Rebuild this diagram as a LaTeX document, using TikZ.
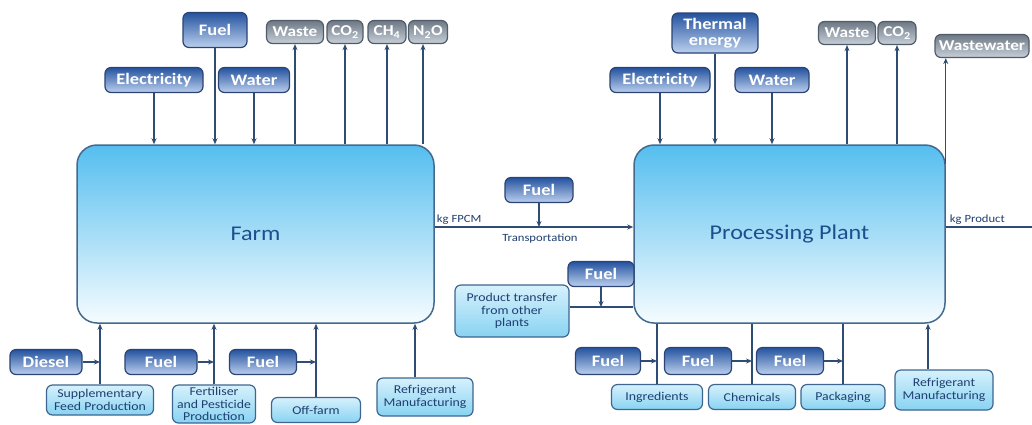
\documentclass[tikz,border=0pt]{standalone}
\usepackage{fontspec}
\setmainfont{Carlito}[FakeStretch=1.15]
\usetikzlibrary{arrows.meta,positioning,calc}

\definecolor{lineC}{HTML}{2F4D72}
\definecolor{mainTop}{HTML}{55BEEF}
\definecolor{mainBot}{HTML}{F6FCFF}
\definecolor{mainEdge}{HTML}{44698F}
\definecolor{mainText}{HTML}{1F4E8C}
\definecolor{inTop}{HTML}{24539F}
\definecolor{inBot}{HTML}{BCD0EE}
\definecolor{inEdge}{HTML}{2B4473}
\definecolor{outTop}{HTML}{6D7884}
\definecolor{outBot}{HTML}{C8D0D9}
\definecolor{outEdge}{HTML}{505C6A}
\definecolor{srcTop}{HTML}{D6F1FC}
\definecolor{srcBot}{HTML}{88D3F2}
\definecolor{srcEdge}{HTML}{3D6690}
\definecolor{srcText}{HTML}{1F3F70}

\tikzset{
  flow/.style={-{Stealth[length=6pt,width=5pt]}, line width=1.2pt, draw=lineC},
  link/.style={line width=1.2pt, draw=lineC},
  mainbox/.style={draw=mainEdge, line width=1.5pt, rounded corners=20pt,
    top color=mainTop, bottom color=mainBot, text=mainText,
    font=\fontsize{21}{24}\selectfont, minimum height=178pt},
  inbox/.style={draw=inEdge, line width=1.2pt, rounded corners=6pt,
    top color=inTop, bottom color=inBot, text=white, align=center,
    font=\bfseries\fontsize{16}{16}\selectfont, inner sep=1pt, minimum height=25pt},
  outbox/.style={draw=outEdge, line width=1.2pt, rounded corners=6pt,
    top color=outTop, bottom color=outBot, text=white,
    font=\bfseries\fontsize{15}{15}\selectfont, inner sep=1pt, minimum height=23pt},
  srcbox/.style={draw=srcEdge, line width=1.2pt, rounded corners=6pt,
    top color=srcTop, bottom color=srcBot, text=srcText, align=center,
    font=\fontsize{12}{12.5}\selectfont, inner sep=1pt, minimum height=25pt},
  lbl/.style={text=srcText, font=\fontsize{11}{12}\selectfont, inner sep=2pt}
}

\begin{document}
\begin{tikzpicture}[x=1pt, y=-1pt]
    \fill[white] (0,0) rectangle (1032,424);
    \useasboundingbox (0,0) rectangle (1032,424);

    % Draw main stages
    \node[mainbox, minimum width=357pt] (farm) at (255.5,234) {Farm};
    \node[mainbox, minimum width=311pt] (plant) at (789.5,234) {Processing Plant};

    % Farm inputs and emissions
    \node[inbox, minimum width=98pt] (elecF) at (154,80) {Electricity};
    \node[inbox, minimum width=64pt, minimum height=35pt] (fuelF) at (215,30) {Fuel};
    \node[inbox, minimum width=71pt] (waterF) at (254,80) {Water};
    \node[outbox, minimum width=57pt] (wasteF) at (295,32) {Waste};
    \node[outbox, minimum width=36pt] (co2F) at (345,32) {CO\textsubscript{2}};
    \node[outbox, minimum width=38pt] (ch4F) at (387,32) {CH\textsubscript{4}};
    \node[outbox, minimum width=39pt] (n2oF) at (428,32) {N\textsubscript{2}O};
    \foreach \src in {elecF,fuelF,waterF}
        \draw[flow] (\src) -- (\src |- farm.north);
    \foreach \dst in {wasteF,co2F,ch4F}
        \draw[flow] (\dst |- farm.north) -- (\dst);
    \coordinate (n2oOut) at ([xshift=-5pt]n2oF.south);
    \draw[flow] (n2oOut |- farm.north) -- (n2oOut);

    % Plant inputs and emissions
    \node[inbox, minimum width=100pt] (elecP) at (660,80) {Electricity};
    \node[inbox, minimum width=86pt, minimum height=40pt] (thermP) at (715,33) {Thermal\\energy};
    \node[inbox, minimum width=74pt] (waterP) at (772,80) {Water};
    \node[outbox, minimum width=57pt] (wasteP) at (847,33) {Waste};
    \node[outbox, minimum width=38pt] (co2P) at (897,33) {CO\textsubscript{2}};
    \node[outbox, minimum width=94pt] (wwP) at (982,46) {Wastewater};
    \foreach \src in {elecP,thermP,waterP}
        \draw[flow] (\src) -- (\src |- plant.north);
    \foreach \dst in {wasteP,co2P}
        \draw[flow] (\dst |- plant.north) -- (\dst);
    \coordinate (wwFoot) at ([yshift=-20pt]plant.north east);
    \draw[flow] (wwFoot) -- (wwFoot |- wwP.south);

    % Transport between stages
    \coordinate (fpcm) at ([yshift=7pt]farm.east);
    \draw[flow] (fpcm) -- (fpcm -| plant.west)
        node[lbl, pos=0.53, below=4pt] {Transportation};
    \node[lbl, above right=0pt and 0pt of fpcm] (fpcmLbl) {kg FPCM};
    \node[inbox, minimum width=68pt] (fuelT) at (539,190) {Fuel};
    \draw[flow] (fuelT) -- (fuelT |- fpcm);

    % Plant output
    \coordinate (prodOut) at ([yshift=7pt]plant.east);
    \draw[link] (prodOut) -- ++(90,0);
    \node[lbl, above right=0pt and 2pt of prodOut] (prodLbl) {kg Product};

    % Product transfer from other plants
    \node[srcbox, minimum width=114pt, minimum height=52pt] (ptrans) at (512,311) {Product transfer\\from other\\plants};
    \node[inbox, minimum width=66pt] (fuelPT) at (601,274) {Fuel};
    \coordinate (ptLine) at ([yshift=4pt]ptrans.east);
    \draw[link] (ptLine) -- (ptLine -| plant.west);
    \draw[flow] (fuelPT) -- (fuelPT |- ptLine);

    % Farm upstream supplies
    \node[inbox, minimum width=72pt] (diesel) at (46,362) {Diesel};
    \node[inbox, minimum width=72pt] (fuelF1) at (161,362) {Fuel};
    \node[inbox, minimum width=67pt] (fuelF2) at (263,362) {Fuel};
    \node[srcbox, minimum width=107pt, minimum height=30pt] (supp) at (100,400) {Supplementary\\Feed Production};
    \node[srcbox, minimum width=83pt, minimum height=38pt] (fert) at (214,404) {Fertiliser\\and Pesticide\\Production};
    \node[srcbox, minimum width=89pt] (off) at (316,410) {Off-farm};
    \node[srcbox, minimum width=96pt, minimum height=38pt] (refF) at (425,397) {Refrigerant\\Manufacturing};
    \coordinate (refFin) at ([xshift=-10pt]refF.north);
    \foreach \src in {supp,fert,off}
        \draw[flow] (\src) -- (\src |- farm.south);
    \draw[flow] (refFin) -- (refFin |- farm.south);
    \draw[flow] (diesel) -- (diesel -| supp);
    \draw[flow] (fuelF1) -- (fuelF1 -| fert);
    \draw[flow] (fuelF2) -- (fuelF2 -| off);

    % Plant upstream supplies
    \node[inbox, minimum width=65pt, minimum height=27pt] (fuelP1) at (608,361) {Fuel};
    \node[inbox, minimum width=67pt, minimum height=27pt] (fuelP2) at (698,361) {Fuel};
    \node[inbox, minimum width=67pt, minimum height=27pt] (fuelP3) at (790,361) {Fuel};
    \node[srcbox, minimum width=91pt] (ingr) at (657,397) {Ingredients};
    \node[srcbox, minimum width=87pt] (chem) at (752,397) {Chemicals};
    \node[srcbox, minimum width=84pt] (pack) at (843,397) {Packaging};
    \node[srcbox, minimum width=98pt, minimum height=40pt] (refP) at (944,390) {Refrigerant\\Manufacturing};
    \coordinate (refPin) at ([xshift=-16pt]refP.north);
    \foreach \src in {ingr,chem,pack}
        \draw[link] (\src) -- (\src |- plant.south);
    \draw[flow] (refPin) -- (refPin |- plant.south);
    \draw[flow] (fuelP1) -- (fuelP1 -| ingr);
    \draw[flow] (fuelP2) -- (fuelP2 -| chem);
    \draw[flow] (fuelP3) -- (fuelP3 -| pack);
\end{tikzpicture}
\end{document}
